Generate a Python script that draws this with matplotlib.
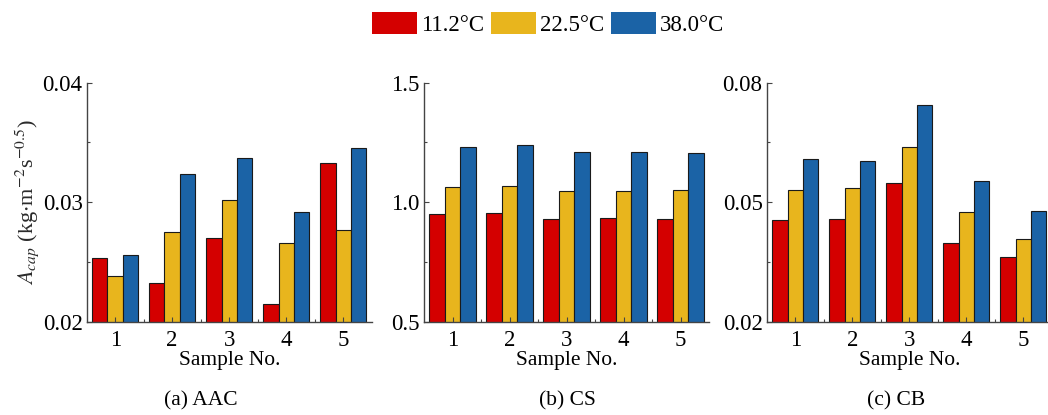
import matplotlib
matplotlib.use('Agg')
import matplotlib.pyplot as plt
from matplotlib.patches import Patch
import numpy

# data
samples = ['1', '2', '3', '4', '5']
temps = ['11.2°C', '22.5°C', '38.0°C']

aac_11 = [0.0253, 0.0232, 0.0270, 0.0215, 0.0333]
aac_22 = [0.0238, 0.0275, 0.0302, 0.0266, 0.0277]
aac_38 = [0.0256, 0.0324, 0.0337, 0.0292, 0.0345]

cs_11 = [0.949, 0.955, 0.930, 0.935, 0.930]
cs_22 = [1.065, 1.069, 1.047, 1.047, 1.051]
cs_38 = [1.230, 1.238, 1.211, 1.211, 1.206]

cb_11 = [0.0455, 0.0459, 0.0547, 0.0398, 0.0362]
cb_22 = [0.0530, 0.0536, 0.0638, 0.0475, 0.0407]
cb_38 = [0.0608, 0.0603, 0.0743, 0.0552, 0.0478]

panels = [
  {'series': [aac_11, aac_22, aac_38], 'ylim': (0.02, 0.04),
   'yticks': [0.02, 0.03, 0.04], 'yfmt': ['0.02', '0.03', '0.04'],
   'yminor': [0.025, 0.035], 'caption': '(a) AAC'},
  {'series': [cs_11, cs_22, cs_38], 'ylim': (0.5, 1.5),
   'yticks': [0.5, 1.0, 1.5], 'yfmt': ['0.5', '1.0', '1.5'],
   'yminor': [0.75, 1.25], 'caption': '(b) CS'},
  {'series': [cb_11, cb_22, cb_38], 'ylim': (0.02, 0.08),
   'yticks': [0.02, 0.05, 0.08], 'yfmt': ['0.02', '0.05', '0.08'],
   'yminor': [0.035, 0.065], 'caption': '(c) CB'},
]

colors = ['#d40000', '#e8b51d', '#1b63a6']

plt.rc('font', family='Liberation Serif', size=15.5)
plt.rc('mathtext', fontset='stix')

fig = plt.figure(figsize=(10.48, 4.15), dpi=100)

lefts = [0.0827, 0.4046, 0.7316]
caption_x = [0.192, 0.541, 0.855]
w = 0.27
x = numpy.arange(1, len(samples) + 1)

for n in range(3):
  p = panels[n]
  ax = fig.add_axes([lefts[n], 0.2248, 0.272, 0.5759])
  for i in range(3):
    ax.bar(x + (i - 1) * w, p['series'][i], width=w, bottom=0,
           color=colors[i], edgecolor='#1a1a1a', linewidth=0.8)
  ax.set_xlim(0.5, 5.5)
  ax.set_ylim(*p['ylim'])
  ax.set_yticks(p['yticks'])
  ax.set_yticklabels(p['yfmt'])
  ax.set_yticks(p['yminor'], minor=True)
  ax.set_xticks(x)
  ax.set_xticklabels(samples)
  ax.set_xticks(x[:-1] + 0.5, minor=True)
  for s in ['top', 'right']:
    ax.spines[s].set_visible(False)
  for s in ['left', 'bottom']:
    ax.spines[s].set_color('#444444')
    ax.spines[s].set_linewidth(1.0)
  ax.tick_params(axis='both', which='major', direction='in', length=3.5,
                 width=0.8, color='#444444', labelsize=16.5)
  ax.tick_params(axis='both', which='minor', direction='in', length=2,
                 width=0.8, color='#444444')
  ax.tick_params(axis='x', which='major', pad=6)
  ax.tick_params(axis='y', which='major', pad=3)
  ax.set_xlabel('Sample No.', labelpad=0)
  fig.text(caption_x[n], 0.035, p['caption'], ha='center', va='center')
  if n == 0:
    ax.set_ylabel(r'$A_{cap}$ (kg$\cdot$m$^{-2}$s$^{-0.5}$)',
                  color='#2a2a2a', fontsize=16)
    ax.yaxis.set_label_coords(-0.16, 0.5)

handles = [Patch(facecolor=colors[i], edgecolor='none') for i in range(3)]
fig.legend(handles, temps, loc='center', bbox_to_anchor=(0.523, 0.942),
           ncol=3, frameon=False, handlelength=1.96, handleheight=1.05,
           handletextpad=0.2, columnspacing=0.28, borderpad=0,
           fontsize=16.5)

plt.savefig('out.png', dpi=100)
